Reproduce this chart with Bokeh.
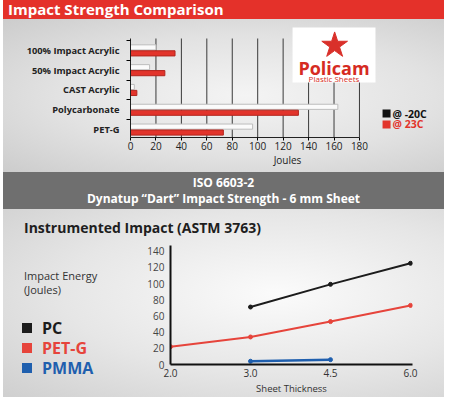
from bokeh.plotting import figure
from bokeh.models import Range1d, FixedTicker, Div
from bokeh.layouts import column, row
from bokeh.embed import file_html
from bokeh.resources import INLINE
from bokeh.core.properties import value

# ---------------- data: Impact Strength Comparison (Joules) ----------------
materials = ["100% Impact Acrylic", "50% Impact Acrylic", "CAST Acrylic", "Polycarbonate", "PET-G"]
joules_minus20 = [20, 15, 3, 163, 96]
joules_23 = [35, 27, 5, 132, 73]
joule_ticks = [0, 20, 40, 60, 80, 100, 120, 140, 160, 180]
temp_labels = ["@ -20C", "@ 23C"]

# ---------------- data: Instrumented Impact (ASTM 3763) ----------------
thickness = ["2.0", "3.0", "4.5", "6.0"]
energy_ticks = [0, 20, 40, 60, 80, 100, 120, 140]
pc_thickness = ["3.0", "4.5", "6.0"]
pc_energy = [71, 99, 125]
petg_thickness = ["2.0", "3.0", "4.5", "6.0"]
petg_energy = [22, 34, 53, 73]
pmma_thickness = ["3.0", "4.5"]
pmma_energy = [4, 6]
series_names = ["PC", "PET-G", "PMMA"]

# ---------------- styling ----------------
W = 441
FONT = "Open Sans"
RED = "#e2342b"
DARK = "#1c1c1c"
PETG_RED = "#e6443b"
BLUE = "#1f5fae"
TOP_BG = "radial-gradient(ellipse at 55% 50%, #f4f4f4 0%, #e2e2e2 55%, #cccccc 100%)"
BOT_BG = "radial-gradient(ellipse at 62% 45%, #fbfbfb 0%, #e6e6e6 55%, #cfcfcf 100%)"

header = Div(
    text=('<div style="width:%dpx;height:19px;background:#e4312a;color:#fff;'
          "font-family:'Open Sans';font-weight:bold;font-size:15px;line-height:19px;"
          'padding-left:5px;box-sizing:border-box;overflow:visible;'
          'white-space:nowrap">Impact Strength Comparison</div>') % W,
    width=W, height=19, margin=0)

# ---------------- top: horizontal bar chart ----------------
TH = 153
t_left, t_right, t_top, t_bottom = 127, 0, 4, 35
x_px = 1.272
y_px = 19.8
y0 = -0.4
top = figure(width=W, height=TH, output_backend="svg", toolbar_location=None,
             x_range=Range1d(0, (W - t_left - t_right) / x_px),
             y_range=Range1d(y0, y0 + (TH - t_top - t_bottom) / y_px),
             min_border_left=t_left, min_border_right=t_right,
             min_border_top=t_top, min_border_bottom=t_bottom,
             frame_align=False, styles={"background": TOP_BG})
top.background_fill_alpha = 0
top.border_fill_alpha = 0
top.outline_line_color = None
top.xgrid.visible = False
top.ygrid.visible = False

n = len(materials)
pos = [n - 1 - i for i in range(n)]

# vertical grid lines at the tick values
top.segment(x0=joule_ticks[1:], x1=joule_ticks[1:], y0=y0, y1=n - 1 + 0.6,
            line_color="#3a3a3a", line_width=1)

top.hbar(y=[q + 0.15 for q in pos], left=0, right=joules_minus20, height=0.26,
         fill_color="#fbfbfb", line_color="#bdbdbd", line_width=1)
top.hbar(y=[q - 0.15 for q in pos], left=0, right=joules_23, height=0.26,
         fill_color=RED, line_color="#b3251d", line_width=1)

xa = top.xaxis[0]
xa.ticker = FixedTicker(ticks=joule_ticks)
xa.bounds = (joule_ticks[0], joule_ticks[-1])
xa.axis_label = "Joules"
xa.axis_label_text_font = FONT
xa.axis_label_text_font_style = "normal"
xa.axis_label_text_font_size = "10px"
xa.axis_label_text_color = "#222"
xa.axis_label_standoff = 0
xa.major_label_text_font = FONT
xa.major_label_text_font_size = "10px"
xa.major_label_text_color = "#222"
xa.major_label_standoff = 1
xa.major_tick_out = 3
xa.major_tick_in = 0
xa.minor_tick_out = 0
xa.axis_line_color = "#222"

ya = top.yaxis[0]
ya.ticker = FixedTicker(ticks=pos, minor_ticks=[q + 0.5 for q in range(-1, n)])
ya.bounds = (y0, n - 1 + 0.6)
ya.major_label_overrides = {q: m for q, m in zip(pos, materials)}
ya.major_label_text_font = FONT
ya.major_label_text_font_style = "bold"
ya.major_label_text_font_size = "9.3px"
ya.major_label_text_color = "#222"
ya.major_label_standoff = 7
ya.major_tick_out = 0
ya.major_tick_in = 0
ya.minor_tick_out = 4
ya.minor_tick_in = 0
ya.axis_line_color = "#222"

# logo
top.quad(left=127.4, right=192.6, bottom=2.38, top=5.16, fill_color="white", line_color=None)
top.scatter(x=[160.5], y=[4.25], marker="star", size=27, fill_color="#d9302a", line_color="#d9302a")
top.text(x=[160], y=[3.1], text=["Policam"], text_font=value(FONT), text_font_style="bold",
         text_font_size="18px", text_color="#d62b22", text_align="center", text_baseline="middle")
top.text(x=[160], y=[2.57], text=["Plastic Sheets"], text_font=value(FONT),
         text_font_size="8px", text_color="#d62b22", text_align="center", text_baseline="middle")

# legend
top.scatter(x=[201.3, 201.3], y=[0.81, 0.26], marker="square", size=8,
            fill_color=["#111111", RED], line_color=None)
top.text(x=[206, 206], y=[0.81, 0.26], text=temp_labels, text_font=value(FONT),
         text_font_style="bold", text_font_size="10.5px", text_color=["#111111", RED],
         text_baseline="middle")

band = Div(
    text=('<div style="width:%dpx;height:37px;background:#6f6f6f;color:#fff;'
          "font-family:'Open Sans';font-weight:bold;font-size:12px;line-height:16px;"
          'text-align:center;padding-top:3px;box-sizing:border-box;white-space:nowrap">'
          "ISO 6603-2<br>Dynatup \u201cDart\u201d Impact Strength - 6 mm Sheet</div>") % W,
    width=W, height=37, margin=0)

# ---------------- bottom: line chart ----------------
title_div = Div(
    text=('<div style="width:%dpx;height:31px;padding-left:21px;padding-top:10px;'
          "box-sizing:border-box;font-family:'Open Sans';font-weight:bold;font-size:14px;"
          'line-height:18px;color:#1e1e1e;white-space:nowrap">'
          "Instrumented Impact (ASTM 3763)</div>") % W,
    width=W, height=31, margin=0)

legend_colors = [DARK, PETG_RED, BLUE]
legend_rows = "".join(
    '<div style="height:20px;line-height:20px;white-space:nowrap">'
    '<span style="display:inline-block;width:10px;height:10px;background:%s;'
    'margin-right:10px;vertical-align:middle"></span>'
    '<span style="vertical-align:middle;font-weight:bold;font-size:16px;color:%s">%s</span></div>'
    % (c, c, nm) for nm, c in zip(series_names, legend_colors))

LW = 137
left_div = Div(
    text=('<div style="position:relative;width:%dpx;height:157px;font-family:\'Open Sans\'">'
          '<div style="position:absolute;left:21px;top:29px;font-size:11px;line-height:14px;'
          'color:#333;white-space:nowrap">Impact Energy<br>(Joules)</div>'
          '<div style="position:absolute;left:19px;top:77px">%s</div></div>') % (LW, legend_rows),
    width=LW, height=157, margin=0)

BW = W - LW
BH = 157
b_left, b_right, b_top, b_bottom = 30, 32, 5, 32
bx_px = 80.0
y_max = 147
bot = figure(width=BW, height=BH, output_backend="svg", toolbar_location=None,
             x_range=Range1d(0, (BW - b_left - b_right) / bx_px),
             y_range=Range1d(0, y_max),
             min_border_left=b_left, min_border_right=b_right,
             min_border_top=b_top, min_border_bottom=b_bottom,
             frame_align=False)
bot.background_fill_alpha = 0
bot.border_fill_alpha = 0
bot.outline_line_color = None
bot.xgrid.visible = False
bot.ygrid.visible = False


def idx(labels):
    return [thickness.index(t) for t in labels]


bot.line(idx(pc_thickness), pc_energy, line_color=DARK, line_width=2)
bot.scatter(idx(pc_thickness), pc_energy, size=4, color=DARK)
bot.line(idx(petg_thickness), petg_energy, line_color=PETG_RED, line_width=2)
bot.scatter(idx(petg_thickness), petg_energy, size=4, color=PETG_RED)
bot.line(idx(pmma_thickness), pmma_energy, line_color=BLUE, line_width=2.5)
bot.scatter(idx(pmma_thickness), pmma_energy, size=4, color=BLUE)

bxa = bot.xaxis[0]
bxa.ticker = FixedTicker(ticks=list(range(len(thickness))))
bxa.major_label_overrides = {i: t for i, t in enumerate(thickness)}
bxa.axis_label = "Sheet Thickness"
bxa.axis_label_text_font = FONT
bxa.axis_label_text_font_style = "normal"
bxa.axis_label_text_font_size = "9.5px"
bxa.axis_label_text_color = "#333"
bxa.axis_label_standoff = 2
bxa.major_label_text_font = FONT
bxa.major_label_text_font_size = "10px"
bxa.major_label_text_color = "#333"
bxa.major_label_standoff = 4
bxa.major_tick_out = 0
bxa.major_tick_in = 0
bxa.minor_tick_out = 0
bxa.axis_line_width = 2
bxa.axis_line_color = "#111"

bya = bot.yaxis[0]
bya.ticker = FixedTicker(ticks=energy_ticks)
bya.major_label_text_font = FONT
bya.major_label_text_font_size = "10px"
bya.major_label_text_color = "#444"
bya.major_label_standoff = 6
bya.major_tick_out = 0
bya.major_tick_in = 0
bya.minor_tick_out = 0
bya.axis_line_width = 2
bya.axis_line_color = "#111"

bottom = column(title_div, row(left_div, bot, spacing=0), spacing=0,
                styles={"background": BOT_BG})

layout = column(header, top, band, bottom, spacing=0, margin=(0, 0, 0, 3))
open("out.html", "w").write(file_html(layout, INLINE))
